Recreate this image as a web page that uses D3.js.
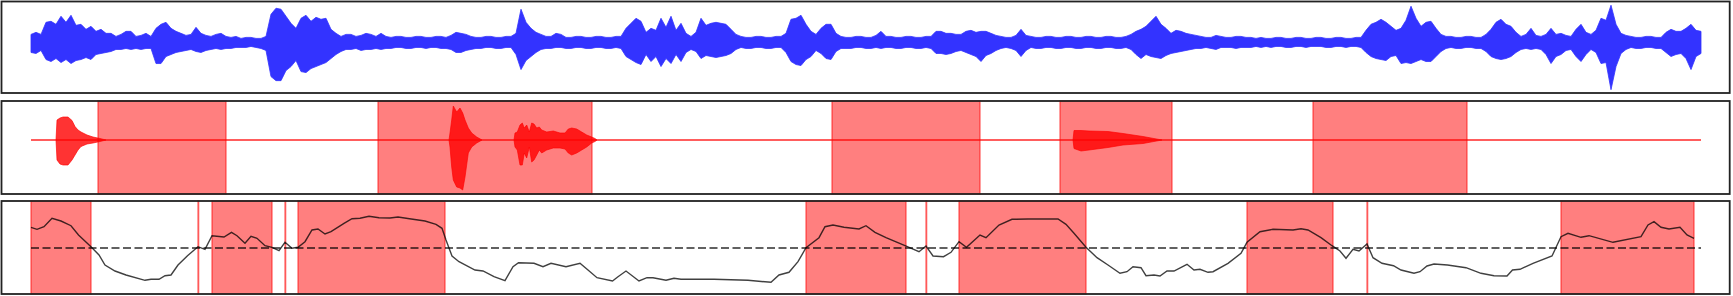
<!DOCTYPE html>
<html>
<head>
<meta charset="utf-8">
<script src="https://cdn.jsdelivr.net/npm/d3@7/dist/d3.min.js"></script>
<style>
  body { margin: 0; background: #fff; }
</style>
</head>
<body>
<script>
// ---- data ----
// clip length in seconds, envelope step in seconds
var duration = 16.7,
    step = 0.05;

// top panel: waveform envelope in % of full scale, one max/min pair per step
var waveMax = [
  16, 20, 16, 40, 42, 36, 52, 40, 54, 34,
  36, 26, 32, 22, 26, 18, 18, 12, 16, 22,
  22, 12, 14, 18, 12, 28, 36, 40, 28, 22,
  18, 14, 16, 30, 18, 14, 12, 16, 18, 12,
  10, 12, 8, 10, 10, 8, 8, 12, 56, 68,
  66, 52, 38, 28, 48, 54, 42, 50, 46, 48,
  26, 18, 12, 16, 16, 12, 14, 18, 16, 12,
  18, 12, 10, 12, 12, 10, 10, 12, 12, 10,
  10, 12, 12, 10, 14, 20, 18, 16, 12, 10,
  10, 12, 12, 10, 10, 12, 12, 18, 66, 40,
  28, 20, 16, 12, 12, 18, 16, 10, 10, 12,
  12, 10, 10, 12, 12, 10, 10, 12, 12, 28,
  38, 48, 42, 20, 28, 24, 48, 30, 52, 24,
  38, 18, 12, 20, 48, 34, 38, 40, 38, 36,
  26, 16, 12, 10, 10, 12, 12, 10, 10, 12,
  12, 18, 46, 48, 54, 36, 22, 16, 28, 36,
  36, 18, 12, 10, 10, 12, 12, 10, 10, 14,
  22, 12, 12, 10, 10, 12, 12, 10, 10, 12,
  12, 22, 22, 18, 18, 16, 16, 22, 24, 20,
  22, 22, 18, 14, 12, 10, 10, 14, 26, 14,
  12, 10, 10, 12, 12, 10, 10, 12, 12, 10,
  10, 12, 12, 10, 10, 12, 12, 10, 10, 12,
  16, 22, 26, 32, 42, 52, 36, 28, 18, 24,
  22, 18, 16, 14, 12, 10, 10, 14, 12, 10,
  10, 12, 12, 10, 10, 8, 10, 8, 8, 10,
  10, 8, 8, 10, 10, 8, 8, 10, 10, 8,
  8, 10, 10, 8, 8, 10, 10, 24, 36, 40,
  46, 40, 32, 24, 28, 44, 72, 48, 32, 40,
  42, 28, 16, 12, 12, 10, 10, 12, 12, 10,
  10, 16, 26, 40, 46, 36, 32, 20, 12, 16,
  28, 14, 12, 16, 28, 16, 18, 14, 12, 26,
  36, 20, 16, 24, 48, 44, 74, 36, 18, 14,
  12, 10, 10, 12, 12, 10, 10, 20, 26, 22,
  22, 28, 36, 24, 22];
var waveMin = [
  -20, -22, -16, -34, -38, -32, -40, -34, -42, -36,
  -34, -30, -34, -24, -22, -20, -18, -14, -14, -12,
  -14, -12, -14, -12, -12, -42, -42, -28, -24, -20,
  -18, -16, -14, -18, -20, -16, -14, -12, -14, -12,
  -12, -10, -10, -10, -8, -10, -12, -16, -68, -76,
  -76, -56, -48, -36, -58, -60, -52, -48, -44, -40,
  -32, -24, -18, -14, -14, -12, -16, -14, -14, -12,
  -14, -12, -12, -10, -10, -12, -12, -10, -10, -12,
  -10, -10, -12, -12, -14, -20, -20, -16, -14, -12,
  -12, -10, -10, -12, -12, -10, -10, -24, -54, -36,
  -28, -20, -14, -12, -12, -10, -10, -12, -12, -10,
  -10, -12, -12, -10, -10, -12, -12, -10, -12, -28,
  -34, -40, -44, -24, -38, -28, -48, -32, -42, -24,
  -38, -20, -14, -18, -32, -26, -28, -30, -28, -26,
  -22, -14, -10, -12, -12, -10, -10, -12, -12, -10,
  -10, -20, -38, -44, -46, -34, -28, -16, -22, -32,
  -34, -18, -12, -12, -12, -10, -10, -12, -12, -10,
  -12, -10, -10, -12, -12, -10, -10, -12, -12, -10,
  -12, -22, -22, -24, -22, -18, -16, -20, -24, -28,
  -38, -26, -22, -16, -12, -10, -12, -16, -28, -16,
  -10, -12, -12, -10, -10, -12, -12, -10, -10, -12,
  -12, -10, -10, -12, -12, -10, -10, -12, -12, -10,
  -14, -24, -32, -24, -28, -30, -32, -26, -22, -20,
  -18, -16, -14, -12, -12, -10, -12, -14, -10, -10,
  -10, -12, -10, -10, -10, -8, -10, -8, -10, -8,
  -8, -10, -10, -8, -8, -10, -8, -8, -8, -10,
  -10, -8, -8, -10, -8, -8, -10, -20, -28, -32,
  -34, -36, -28, -26, -42, -40, -42, -38, -34, -38,
  -38, -28, -18, -12, -10, -12, -12, -10, -10, -12,
  -12, -18, -28, -32, -34, -32, -28, -20, -14, -12,
  -14, -12, -14, -24, -42, -28, -24, -16, -14, -28,
  -38, -24, -14, -20, -42, -40, -94, -48, -22, -14,
  -10, -12, -12, -10, -10, -12, -12, -20, -28, -24,
  -22, -32, -54, -28, -22];

// middle panel: detected events, [time, max %, min %]; silent elsewhere
var eventBurst1 = [[0.25, 0, 0], [0.26, 40, -40], [0.29, 44, -48], [0.32, 46, -50],
  [0.37, 46, -50], [0.41, 39, -40], [0.44, 27, -30], [0.47, 20, -20],
  [0.50, 16, -13], [0.56, 10, -8], [0.62, 6, -6], [0.69, 3, -3], [0.75, 0, 0]];
var eventBurst2 = [[4.18, 0, 0], [4.19, 14, -14], [4.207, 40, -54], [4.223, 68, -80],
  [4.257, 56, -94], [4.29, 64, -96], [4.317, 54, -100], [4.34, 40, -74], [4.373, 24, -26],
  [4.407, 14, -14], [4.457, 6, -6], [4.51, 0, 0]];
var eventBurst3 = [[4.83, 0, 0], [4.84, 14, -14], [4.863, 16, -20], [4.89, 30, -50],
  [4.913, 34, -50], [4.933, 24, -26], [4.957, 30, -36], [4.983, 16, -14], [5.007, 34, -44],
  [5.03, 32, -40], [5.057, 24, -30], [5.083, 26, -20], [5.107, 20, -26], [5.157, 16, -20],
  [5.223, 18, -16], [5.29, 14, -16], [5.34, 14, -18], [5.373, 22, -26], [5.407, 24, -30],
  [5.457, 22, -26], [5.507, 16, -20], [5.557, 10, -14], [5.607, 6, -6], [5.64, 3, -3], [5.66, 0, 0]];
var eventBurst4 = [[10.42, 0, 0], [10.43, 19, -17], [10.50, 19, -22], [10.58, 18, -20],
  [10.77, 17, -15], [10.92, 13, -10], [11.12, 7, -7], [11.31, 0, 0]];
var eventSpans = [[0.67, 1.95], [3.47, 5.61], [8.01, 9.49], [10.29, 11.41], [12.82, 14.36]];

// bottom panel: feature curve [time, value], threshold and spans above it
var feature = [
  [0.00, 0.667], [0.06, 0.647], [0.13, 0.673], [0.21, 0.757], [0.30, 0.73], [0.40, 0.683],
  [0.475, 0.59], [0.60, 0.473], [0.68, 0.39], [0.74, 0.29], [0.84, 0.23], [0.95, 0.19],
  [1.14, 0.137], [1.20, 0.147], [1.28, 0.147], [1.34, 0.183], [1.40, 0.19], [1.47, 0.29],
  [1.565, 0.383], [1.67, 0.473], [1.74, 0.447], [1.81, 0.583], [1.93, 0.57], [2.005, 0.617],
  [2.06, 0.583], [2.14, 0.507], [2.20, 0.577], [2.26, 0.557], [2.34, 0.483], [2.41, 0.467],
  [2.48, 0.433], [2.54, 0.517], [2.61, 0.457], [2.67, 0.467], [2.74, 0.523], [2.81, 0.64],
  [2.87, 0.65], [2.94, 0.60], [3.00, 0.623], [3.13, 0.707], [3.21, 0.753], [3.29, 0.757],
  [3.38, 0.777], [3.48, 0.763], [3.59, 0.76], [3.67, 0.77], [3.785, 0.753], [3.94, 0.73],
  [4.05, 0.697], [4.11, 0.657], [4.15, 0.54], [4.21, 0.38], [4.28, 0.323], [4.44, 0.24],
  [4.52, 0.23], [4.63, 0.173], [4.74, 0.133], [4.82, 0.273], [4.875, 0.313], [5.03, 0.307],
  [5.12, 0.273], [5.20, 0.307], [5.35, 0.273], [5.49, 0.307], [5.57, 0.24], [5.66, 0.163],
  [5.815, 0.13], [5.87, 0.173], [5.95, 0.23], [6.08, 0.13], [6.16, 0.163], [6.22, 0.163],
  [6.35, 0.137], [6.43, 0.157], [6.50, 0.147], [6.83, 0.147], [7.17, 0.137], [7.40, 0.117],
  [7.48, 0.19], [7.58, 0.217], [7.67, 0.323], [7.75, 0.463], [7.88, 0.563], [7.94, 0.673],
  [8.02, 0.69], [8.13, 0.667], [8.28, 0.65], [8.35, 0.683], [8.44, 0.617], [8.55, 0.563],
  [8.74, 0.483], [8.88, 0.423], [8.95, 0.48], [9.02, 0.38], [9.125, 0.373], [9.20, 0.417],
  [9.28, 0.523], [9.355, 0.467], [9.49, 0.59], [9.55, 0.563], [9.68, 0.69], [9.81, 0.747],
  [9.97, 0.75], [10.27, 0.75], [10.35, 0.697], [10.43, 0.607], [10.55, 0.467], [10.66, 0.363],
  [10.77, 0.29], [10.89, 0.207], [10.96, 0.223], [11.02, 0.273], [11.10, 0.263], [11.15, 0.183],
  [11.23, 0.19], [11.29, 0.18], [11.36, 0.23], [11.43, 0.23], [11.56, 0.297], [11.63, 0.24],
  [11.69, 0.247], [11.77, 0.217], [11.82, 0.223], [11.97, 0.307], [12.10, 0.407], [12.16, 0.517],
  [12.29, 0.623], [12.42, 0.647], [12.62, 0.64], [12.70, 0.653], [12.77, 0.64], [12.90, 0.563],
  [13.01, 0.483], [13.09, 0.43], [13.15, 0.357], [13.22, 0.447], [13.28, 0.43], [13.36, 0.50],
  [13.42, 0.363], [13.51, 0.307], [13.625, 0.283], [13.70, 0.24], [13.83, 0.207], [13.89, 0.223],
  [13.96, 0.28], [14.03, 0.30], [14.165, 0.29], [14.35, 0.263], [14.50, 0.207], [14.63, 0.183],
  [14.76, 0.18], [14.815, 0.24], [14.89, 0.247], [15.02, 0.307], [15.21, 0.38], [15.30, 0.573],
  [15.37, 0.607], [15.50, 0.567], [15.58, 0.583], [15.82, 0.517], [16.10, 0.573], [16.17, 0.69],
  [16.23, 0.723], [16.30, 0.667], [16.38, 0.65], [16.49, 0.667], [16.56, 0.59], [16.63, 0.557]];
var threshold = 0.46;
var featureSpans = [[0, 0.6], [1.67, 1.67], [1.81, 2.41], [2.54, 2.54], [2.67, 4.14],
  [7.75, 8.75], [8.95, 8.95], [9.28, 10.55], [12.16, 13.02], [13.36, 13.36], [15.30, 16.63]];

// ---- layout ----
var canvasWidth = 1733,
    canvasHeight = 296,
    frameLeft = 1.5,
    frameRight = 1729.7,
    panelTop = [1.5, 101, 201],
    panelBottom = [93, 194, 294];

var figure = d3.select("body")
  .append("svg")
    .attr("width", canvasWidth)
    .attr("height", canvasHeight);

// shared time axis
var x = d3.scaleLinear()
    .domain([0, duration])
    .range([31, 1701]);

var yWave = d3.scaleLinear().domain([-100.6, 81.4]).range([panelBottom[0], panelTop[0]]),
    yEvent = d3.scaleLinear().domain([-108, 78]).range([panelBottom[1], panelTop[1]]),
    yFeat = d3.scaleLinear().domain([0, 0.93]).range([panelBottom[2], panelTop[2]]);

// shaded spans, zero length ones still show as a thin line
function drawSpans(spans, top, bottom) {
  figure.append("g")
    .attr("class", "spans")
    .selectAll("rect")
    .data(spans)
    .enter()
    .append("rect")
      .attr("x", function(d) { return x(d[0]); })
      .attr("y", top)
      .attr("width", function(d) { return Math.max(x(d[1]) - x(d[0]), 0.6); })
      .attr("height", bottom - top)
      .attr("fill", "#ff0000")
      .attr("fill-opacity", 0.5)
      .attr("stroke", "#ff0000")
      .attr("stroke-opacity", 0.5)
      .attr("stroke-width", 1.5);
}

// ---- panel 1: waveform ----
var waveData = waveMax.map(function(v, i) { return {t: i * step, max: v, min: waveMin[i]}; });

figure.append("path")
  .datum(waveData)
  .attr("fill", "#3333ff")
  .attr("stroke", "#3333ff")
  .attr("stroke-width", 0.8)
  .attr("d", d3.area()
    .x(function(d) { return x(d.t); })
    .y0(function(d) { return yWave(d.min); })
    .y1(function(d) { return yWave(d.max); }));

// ---- panel 2: events ----
drawSpans(eventSpans, panelTop[1], panelBottom[1]);

figure.append("path")
  .datum([0, duration])
  .attr("fill", "none")
  .attr("stroke", "#ff0000")
  .attr("stroke-opacity", 0.85)
  .attr("stroke-width", 1.3)
  .attr("d", d3.line()
    .x(function(d) { return x(d); })
    .y(function() { return yEvent(0); }));

var burstArea = d3.area()
  .x(function(d) { return x(d[0]); })
  .y0(function(d) { return yEvent(d[2]); })
  .y1(function(d) { return yEvent(d[1]); });

figure.append("g")
  .attr("class", "bursts")
  .selectAll("path")
  .data([eventBurst1, eventBurst2, eventBurst3, eventBurst4])
  .enter()
  .append("path")
    .attr("fill", "#ff0000")
    .attr("fill-opacity", 0.8)
    .attr("stroke", "#ff0000")
    .attr("stroke-opacity", 0.8)
    .attr("stroke-width", 0.8)
    .attr("d", burstArea);

// ---- panel 3: feature + threshold ----
drawSpans(featureSpans, panelTop[2], panelBottom[2]);

figure.append("path")
  .datum([0, duration])
  .attr("fill", "none")
  .attr("stroke", "#000")
  .attr("stroke-opacity", 0.62)
  .attr("stroke-width", 2.2)
  .attr("stroke-dasharray", "8,3.5")
  .attr("d", d3.line()
    .x(function(d) { return x(d); })
    .y(function() { return yFeat(threshold); }));

figure.append("path")
  .datum(feature)
  .attr("fill", "none")
  .attr("stroke", "#000")
  .attr("stroke-opacity", 0.75)
  .attr("stroke-width", 1.4)
  .attr("d", d3.line()
    .x(function(d) { return x(d[0]); })
    .y(function(d) { return yFeat(d[1]); }));

// ---- frames ----
figure.append("g")
  .attr("class", "frames")
  .selectAll("rect")
  .data(panelTop)
  .enter()
  .append("rect")
    .attr("x", frameLeft)
    .attr("y", function(d) { return d; })
    .attr("width", frameRight - frameLeft)
    .attr("height", function(d, i) { return panelBottom[i] - d; })
    .attr("fill", "none")
    .attr("stroke", "#222")
    .attr("stroke-width", 1.8);
</script>
</body>
</html>
